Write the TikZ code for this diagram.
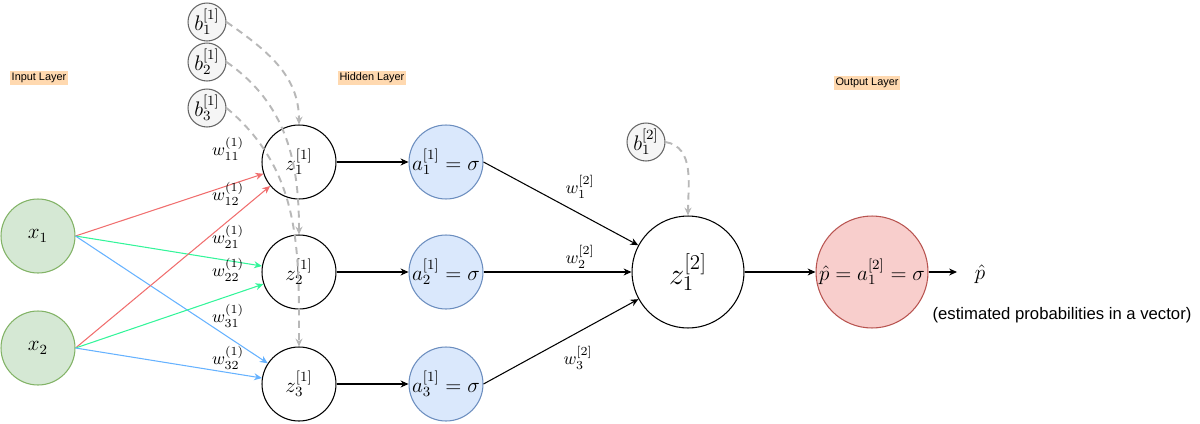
\documentclass[tikz,border=0pt]{standalone}
\usepackage{fontspec}
\newfontfamily\layerfont{Liberation Sans}
\usetikzlibrary{arrows.meta}
\definecolor{inputfill}{HTML}{D5E8D4}
\definecolor{inputdraw}{HTML}{82B366}
\definecolor{hiddenfill}{HTML}{DAE8FC}
\definecolor{hiddendraw}{HTML}{6C8EBF}
\definecolor{outfill}{HTML}{F8CECC}
\definecolor{outdraw}{HTML}{B85450}
\definecolor{biasfill}{HTML}{F5F5F5}
\definecolor{biasdraw}{HTML}{666666}
\definecolor{biasline}{HTML}{B8B8B8}
\definecolor{wred}{HTML}{F06E6E}
\definecolor{wgreen}{HTML}{33F59A}
\definecolor{wblue}{HTML}{66B2FF}
\definecolor{layerbg}{HTML}{FFD9B0}
\begin{document}
\begin{tikzpicture}[x=0.02cm,y=-0.02cm,line width=0.6pt,
    >={Stealth[length=4.5pt,width=4pt]},
    neuron/.style={circle,draw,minimum size=1.48cm,inner sep=0pt,font=\large},
    inputneuron/.style={neuron,fill=inputfill,draw=inputdraw},
    actneuron/.style={neuron,fill=hiddenfill,draw=hiddendraw},
    sumneuron/.style={circle,draw,minimum size=2.24cm,inner sep=0pt,font=\LARGE},
    outneuron/.style={sumneuron,fill=outfill,draw=outdraw,font=\large},
    bias/.style={circle,draw=biasdraw,fill=biasfill,minimum size=0.76cm,inner sep=0pt,font=\large},
    biasarrow/.style={->,draw=biasline,line width=1.1pt,dash pattern=on 4pt off 3pt},
    weight/.style={font=\normalsize},
    layerlabel/.style={fill=layerbg,inner sep=1pt,font=\layerfont\fontsize{6.2}{7}\selectfont}]
 \useasboundingbox (0,0) rectangle (1200,423);
 \node[layerlabel] (inlabel) at (39,78) {Input Layer};
 \node[layerlabel] (hidlabel) at (372,78) {Hidden Layer};
 \node[layerlabel] (outlabel) at (867,83) {Output Layer};
 \node[inputneuron] (x1) at (38,236) {$x_1$};
 \node[inputneuron] (x2) at (38,348) {$x_2$};
 \node[neuron] (z1) at (299,162) {$z^{[1]}_1$};
 \node[neuron] (z2) at (299,272) {$z^{[1]}_2$};
 \node[neuron] (z3) at (299,384) {$z^{[1]}_3$};
 \node[actneuron] (a1) at (446,162) {$a^{[1]}_1=\sigma$};
 \node[actneuron] (a2) at (446,272) {$a^{[1]}_2=\sigma$};
 \node[actneuron] (a3) at (446,384) {$a^{[1]}_3=\sigma$};
 \node[sumneuron] (zout) at (688,272) {$z^{[2]}_1$};
 \node[outneuron] (pout) at (872,272) {$\hat{p}=a^{[2]}_1=\sigma$};
 \coordinate (pend) at (957,272);
 \node[font=\large] (phat) at (980,274) {$\hat{p}$};
 \node[font=\layerfont\fontsize{9.5}{11}\selectfont] (estim) at (1062,315) {(estimated probabilities in a vector)};
 \node[bias] (b1) at (207,22) {$b^{[1]}_1$};
 \node[bias] (b2) at (207,62) {$b^{[1]}_2$};
 \node[bias] (b3) at (207,108) {$b^{[1]}_3$};
 \node[bias] (bout) at (646,142) {$b^{[2]}_1$};
 \draw[->,wred] (x1.east) -- (z1);
 \draw[->,wgreen] (x1.east) -- (z2);
 \draw[->,wblue] (x1.east) -- (z3);
 \draw[->,wred] (x2.east) -- (z1);
 \draw[->,wgreen] (x2.east) -- (z2);
 \draw[->,wblue] (x2.east) -- (z3);
 \node[weight] (w11) at (228,149) {$w^{(1)}_{11}$};
 \node[weight] (w12) at (228,194) {$w^{(1)}_{12}$};
 \node[weight] (w21) at (228,237) {$w^{(1)}_{21}$};
 \node[weight] (w22) at (228,270) {$w^{(1)}_{22}$};
 \node[weight] (w31) at (228,316) {$w^{(1)}_{31}$};
 \node[weight] (w32) at (228,358) {$w^{(1)}_{32}$};
 \draw[biasarrow] (b1.east) to[out=-35,in=90] (z1.north);
 \draw[biasarrow] (b2.east) to[out=-35,in=90] (z2.north);
 \draw[biasarrow] (b3.east) to[out=-40,in=90] (z3.north);
 \draw[biasarrow] (bout.east) to[out=-10,in=90] (zout.north);
 \draw[->] (z1) -- (a1);
 \draw[->] (z2) -- (a2);
 \draw[->] (z3) -- (a3);
 \draw[->] (a1.east) -- (zout);
 \draw[->] (a2.east) -- (zout);
 \draw[->] (a3.east) -- (zout);
 \node[weight] (v1) at (580,187) {$w^{[2]}_1$};
 \node[weight] (v2) at (580,257) {$w^{[2]}_2$};
 \node[weight] (v3) at (578,358) {$w^{[2]}_3$};
 \draw[->] (zout) -- (pout);
 \draw[->] (pout) -- (pend);
\end{tikzpicture}
\end{document}
